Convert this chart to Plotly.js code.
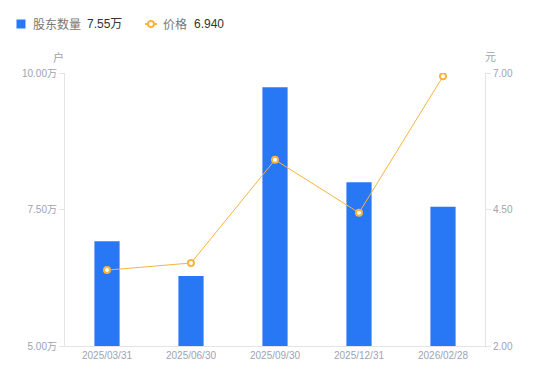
<!DOCTYPE html>
<html><head><meta charset="utf-8">
<script src="https://cdn.plot.ly/plotly-3.0.1.min.js"></script>
<style>html,body{margin:0;padding:0;background:#fff}#c{width:550px;height:381px}</style>
</head><body><div id="c"></div>
<script>
const dates = ['2025/03/31','2025/06/30','2025/09/30','2025/12/31','2026/02/28'];
const holders = [6.92, 6.28, 9.74, 8.00, 7.55]; // 万户
const prices = [3.39, 3.52, 5.41, 4.44, 6.94]; // 元
const leftTickVals = [5, 7.5, 10];
const leftTickText = ['5.00万','7.50万','10.00万'];
const rightTickVals = [2, 4.5, 7];
const rightTickText = ['2.00','4.50','7.00'];
const legendNames = ['股东数量','价格'];
const legendValues = ['7.55万','6.940'];

const font = '"Liberation Sans", "Noto Sans CJK SC", sans-serif';
const axisColor = '#e3e3e8';
const tickFontColor = '#9fa2b0';
const barColor = '#2878f6';
const lineColor = '#f8b440';

// plot area in px: left 65, right 485, top 73, bottom 346
const L=65, R=485, T=73, B=346;
const px = x => (x-L)/(R-L);
const py = y => (B-y)/(B-T);

const data = [
  {type:'bar', x:dates, y:holders, name:legendNames[0], marker:{color:barColor}, width:0.3, yaxis:'y'},
  {type:'scatter', mode:'lines+markers', x:dates, y:prices, name:legendNames[1],
   line:{color:lineColor, width:1}, marker:{size:6, color:'#fff', line:{color:lineColor, width:2}}, yaxis:'y2'}
];
const layout = {
  width:550, height:381,
  margin:{l:L, r:550-R, t:T, b:381-B},
  paper_bgcolor:'#fff', plot_bgcolor:'#fff',
  font:{family:font, size:10, color:tickFontColor},
  showlegend:false,
  xaxis:{type:'category', showline:true, linecolor:axisColor, ticks:'', showgrid:false, zeroline:false,
    tickfont:{size:10, color:tickFontColor}},
  yaxis:{range:[5,10], tickvals:leftTickVals, ticktext:leftTickText, showline:true, linecolor:axisColor,
    ticks:'outside', ticklen:5, tickcolor:axisColor, showgrid:false, zeroline:false, tickfont:{size:10, color:tickFontColor}},
  yaxis2:{range:[2,7], overlaying:'y', side:'right', tickvals:rightTickVals, ticktext:rightTickText, showline:true, linecolor:axisColor,
    ticks:'outside', ticklen:5, tickcolor:axisColor, showgrid:false, zeroline:false, tickfont:{size:10, color:tickFontColor}},
  shapes:[
    {type:'rect', xref:'paper', yref:'paper', x0:px(16.5), x1:px(25.5), y0:py(28.5), y1:py(19.5), fillcolor:barColor, line:{width:0}},
    {type:'line', xref:'paper', yref:'paper', x0:px(145), x1:px(157), y0:py(24), y1:py(24), line:{color:lineColor, width:2}},
    {type:'circle', xref:'paper', yref:'paper', x0:px(148), x1:px(154), y0:py(27), y1:py(21), fillcolor:'#fff', line:{color:lineColor, width:2}}
  ],
  annotations:[
    {text:'户', xref:'paper', yref:'paper', x:px(58), y:py(57), xanchor:'center', yanchor:'middle', showarrow:false, font:{size:11, color:tickFontColor}},
    {text:'元', xref:'paper', yref:'paper', x:px(490), y:py(57), xanchor:'center', yanchor:'middle', showarrow:false, font:{size:11, color:tickFontColor}},
    {text:legendNames[0], xref:'paper', yref:'paper', x:px(30.5), y:py(24.5), xanchor:'left', yanchor:'middle', showarrow:false, font:{size:12, color:'#777'}},
    {text:legendValues[0], xref:'paper', yref:'paper', x:px(84.5), y:py(24.5), xanchor:'left', yanchor:'middle', showarrow:false, font:{size:12, color:'#333'}},
    {text:legendNames[1], xref:'paper', yref:'paper', x:px(160.5), y:py(24.5), xanchor:'left', yanchor:'middle', showarrow:false, font:{size:12, color:'#777'}},
    {text:legendValues[1], xref:'paper', yref:'paper', x:px(191.5), y:py(24.5), xanchor:'left', yanchor:'middle', showarrow:false, font:{size:12, color:'#333'}}
  ]
};
Plotly.newPlot('c', data, layout, {displayModeBar:false, staticPlot:true});
</script></body></html>
